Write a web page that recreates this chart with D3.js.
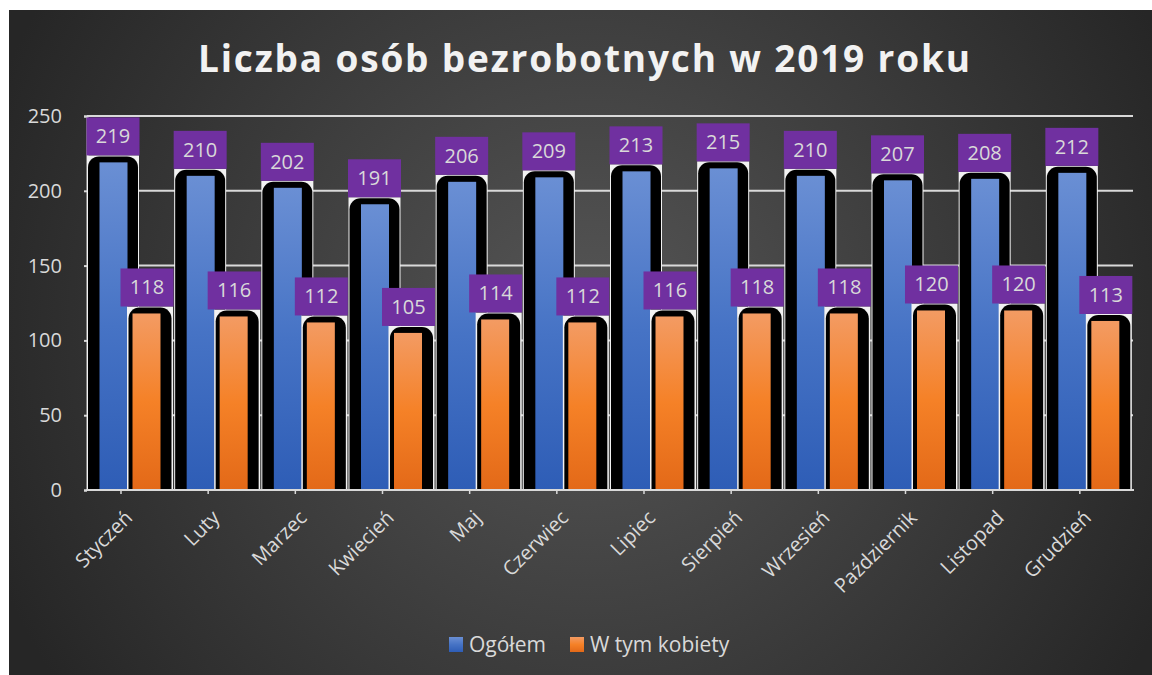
<!DOCTYPE html>
<html>
<head>
<meta charset="utf-8">
<script src="https://cdn.jsdelivr.net/npm/d3@7"></script>
<style>
  html, body { margin: 0; padding: 0; background: #ffffff; }
  svg { display: block; }
</style>
</head>
<body>
<svg id="chart" width="1152" height="675"></svg>
<script>
const months = ["Styczeń", "Luty", "Marzec", "Kwiecień", "Maj", "Czerwiec", "Lipiec", "Sierpień", "Wrzesień", "Październik", "Listopad", "Grudzień"];
const ogolem = [219, 210, 202, 191, 206, 209, 213, 215, 210, 207, 208, 212];
const kobiety = [118, 116, 112, 105, 114, 112, 116, 118, 118, 120, 120, 113];
const seriesNames = ["Ogółem", "W tym kobiety"];
const yTicks = [0, 50, 100, 150, 200, 250];
const title = "Liczba osób bezrobotnych w 2019 roku";

const svg = d3.select("#chart");
const FONT = "'Open Sans', 'Noto Sans', sans-serif";
const defs = svg.append("defs");

const bg = defs.append("radialGradient").attr("id", "bg")
  .attr("gradientUnits", "userSpaceOnUse")
  .attr("cx", 590).attr("cy", 330).attr("r", 640);
bg.append("stop").attr("offset", 0).attr("stop-color", "#565656");
bg.append("stop").attr("offset", 1).attr("stop-color", "#262626");

function lin(id, stops) {
  const g = defs.append("linearGradient").attr("id", id)
    .attr("x1", 0).attr("y1", 0).attr("x2", 0).attr("y2", 1);
  stops.forEach(([o, c]) => g.append("stop").attr("offset", o).attr("stop-color", c));
}
lin("gBlue", [[0, "#6a8fd4"], [0.5, "#4673c5"], [1, "#2e5db6"]]);
lin("gOrange", [[0, "#f39b63"], [0.5, "#f58127"], [1, "#e36918"]]);

svg.append("rect").attr("x", 9).attr("y", 10).attr("width", 1143).attr("height", 665)
  .attr("fill", "url(#bg)");

// Title
svg.append("text").attr("x", 584).attr("y", 72).attr("text-anchor", "middle")
  .attr("font-family", FONT).attr("font-weight", 700).attr("font-size", 37)
  .attr("fill", "#f2f2f2").attr("textLength", 772).attr("lengthAdjust", "spacing")
  .text(title);

const x = d3.scaleBand().domain(months).range([87, 1133]).padding(0);
const y = d3.scaleLinear().domain([0, 250]).range([490, 116]);
const bw = x.bandwidth();

// gridlines
svg.append("g").selectAll("line").data(yTicks.filter(d => d > 0)).join("line")
  .attr("x1", 87).attr("x2", 1133)
  .attr("y1", d => y(d)).attr("y2", d => y(d))
  .attr("stroke", "#d9d9d9").attr("stroke-width", 2);

// y axis labels
const yAxis = d3.axisLeft(y).tickValues(yTicks).tickSize(3).tickPadding(22);
const ya = svg.append("g").attr("transform", "translate(87,0)").call(yAxis);
ya.select(".domain").attr("stroke", "#d9d9d9").attr("stroke-width", 2);
ya.selectAll(".tick line").attr("stroke", "#d9d9d9").attr("stroke-width", 2);
ya.selectAll(".tick text").attr("fill", "#d9d9d9").attr("font-family", FONT).attr("font-size", 20);

// bar geometry (fractions of band)
const geo = [
  { white: [0, 52], black: [1, 51], fill: [12.5, 40.5], label: 26, grad: "url(#gBlue)", vals: ogolem },
  { white: [40, 86], black: [41.5, 84.5], fill: [45.5, 73.5], label: 60, grad: "url(#gOrange)", vals: kobiety }
].map(g => ({ ...g, k: bw / 87.17 }));

const groups = svg.append("g").selectAll("g").data(months).join("g")
  .attr("transform", d => `translate(${x(d)},0)`);

geo.forEach(g => {
  const sub = groups.append("g");
  sub.append("rect")
    .attr("x", g.white[0] * g.k).attr("width", (g.white[1] - g.white[0]) * g.k)
    .attr("y", (d, i) => y(g.vals[i]) - 7).attr("height", (d, i) => y(0) - y(g.vals[i]) + 7)
    .attr("fill", "#f2f2f2");
  sub.append("rect")
    .attr("x", g.black[0] * g.k).attr("width", (g.black[1] - g.black[0]) * g.k)
    .attr("y", (d, i) => y(g.vals[i]) - 6).attr("height", (d, i) => y(0) - y(g.vals[i]) + 20)
    .attr("rx", 11).attr("fill", "#000");
  sub.append("rect")
    .attr("x", g.fill[0] * g.k).attr("width", (g.fill[1] - g.fill[0]) * g.k)
    .attr("y", (d, i) => y(g.vals[i])).attr("height", (d, i) => y(0) - y(g.vals[i]))
    .attr("fill", g.grad);
});

// hide black overflow below axis
svg.append("rect").attr("x", 87).attr("y", 491).attr("width", 1046).attr("height", 16)
  .attr("fill", "url(#bg)");

// x axis line
svg.append("line").attr("x1", 86).attr("x2", 1134).attr("y1", y(0)).attr("y2", y(0))
  .attr("stroke", "#d9d9d9").attr("stroke-width", 2);
svg.append("g").selectAll("line").data(months).join("line")
  .attr("x1", d => x(d) + 34 * bw / 87.17).attr("x2", d => x(d) + 34 * bw / 87.17)
  .attr("y1", y(0)).attr("y2", y(0) + 4)
  .attr("stroke", "#d9d9d9").attr("stroke-width", 1.5);

// data labels
geo.forEach(g => {
  const lab = groups.append("g");
  lab.append("rect")
    .attr("x", g.label * g.k - 26.5).attr("width", 53)
    .attr("y", (d, i) => y(g.vals[i]) - 45).attr("height", 38)
    .attr("fill", "#7030a0");
  lab.append("text")
    .attr("x", g.label * g.k).attr("y", (d, i) => y(g.vals[i]) - 19)
    .attr("text-anchor", "middle").attr("font-family", FONT).attr("font-size", 20)
    .attr("fill", "#d9d9d9")
    .text((d, i) => g.vals[i]);
});

// x labels
svg.append("g").selectAll("text").data(months).join("text")
  .attr("transform", d => `translate(${x(d) + bw / 2 + 3},519) rotate(-45)`)
  .attr("text-anchor", "end").attr("font-family", FONT).attr("font-size", 20)
  .attr("fill", "#d9d9d9")
  .text(d => d);

// legend
const legend = svg.append("g");
const lx = [449, 570];
seriesNames.forEach((s, i) => {
  legend.append("rect").attr("x", lx[i]).attr("y", 637).attr("width", 14).attr("height", 15)
    .attr("fill", i === 0 ? "url(#gBlue)" : "url(#gOrange)");
  legend.append("text").attr("x", lx[i] + 20).attr("y", 652)
    .attr("font-family", FONT).attr("font-size", 21).attr("fill", "#d9d9d9").text(s);
});
</script>
</body>
</html>
